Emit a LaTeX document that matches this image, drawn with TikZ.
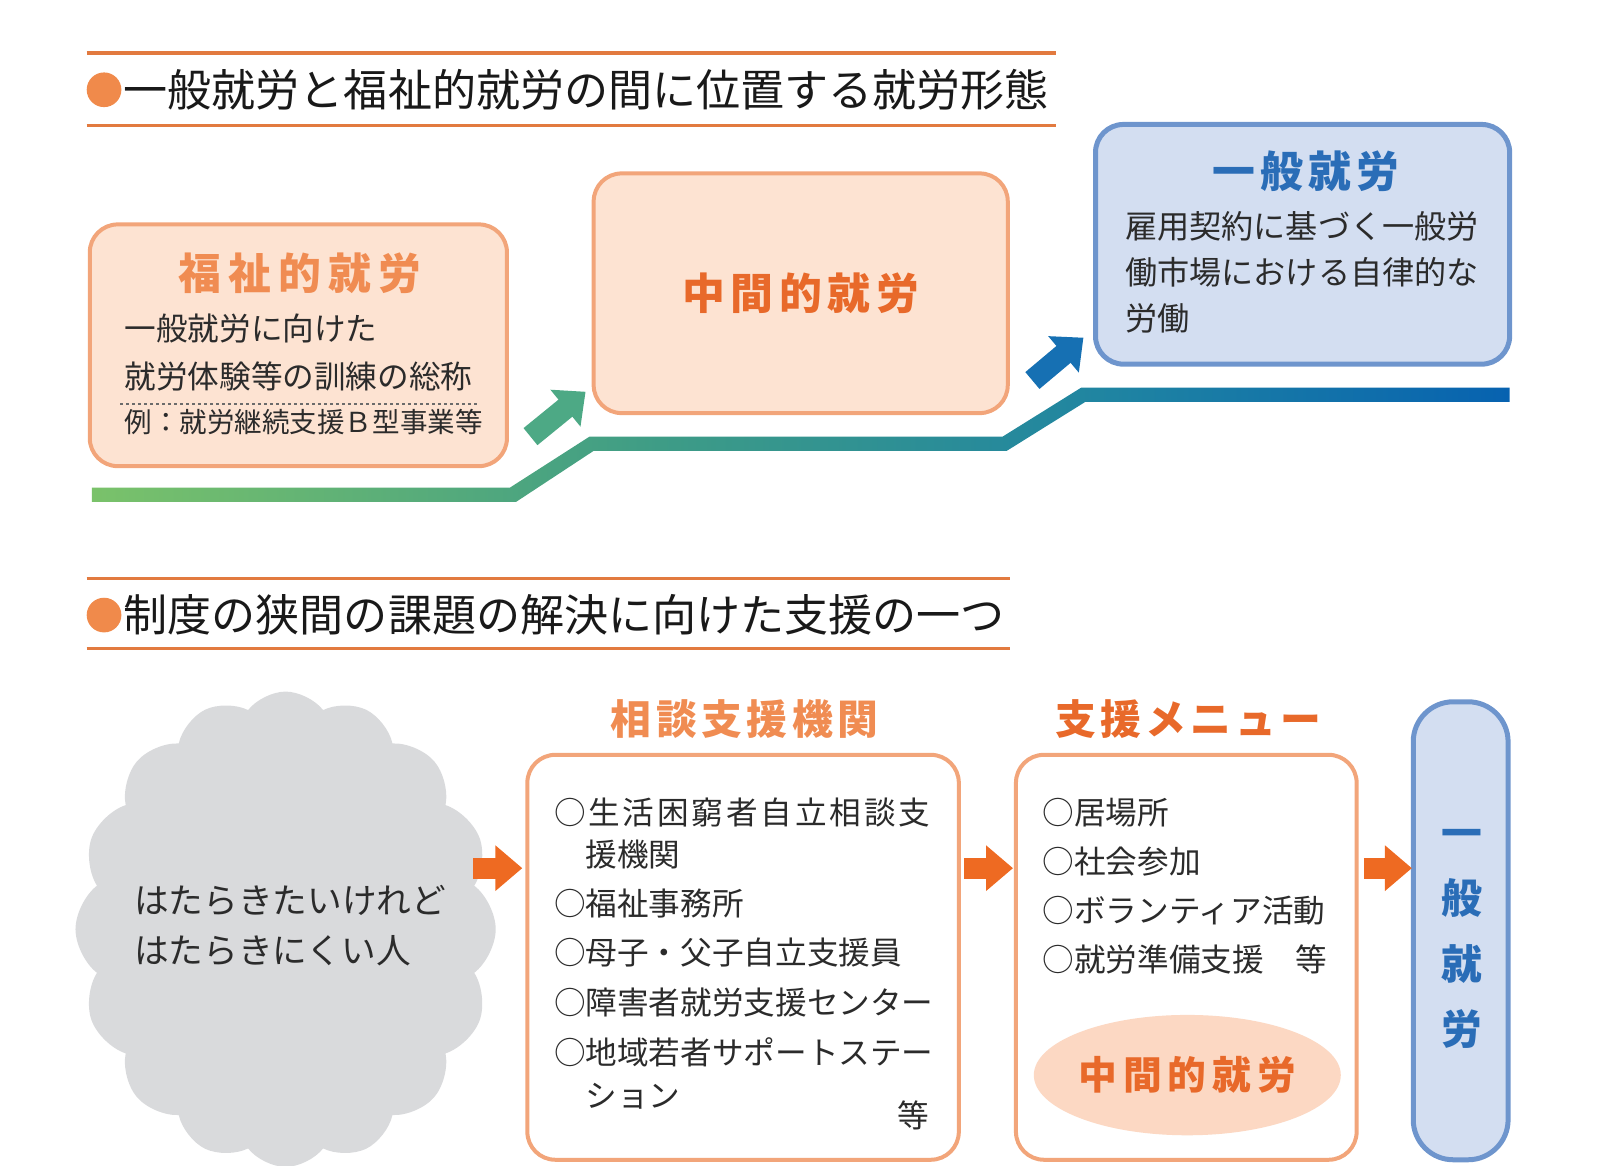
\documentclass[tikz,border=0pt]{standalone}
\usepackage{fontspec}
\setmainfont{Noto Sans CJK JP}
\usetikzlibrary{shapes.geometric,shapes.symbols,arrows.meta,positioning}

\definecolor{headorange}{HTML}{E27A3F}
\definecolor{bulletorange}{HTML}{F08A4B}
\definecolor{peachfill}{HTML}{FDE3D2}
\definecolor{boxorange}{HTML}{F2A57A}
\definecolor{titleorange}{HTML}{F08C52}
\definecolor{deeporange}{HTML}{E8692A}
\definecolor{bluefill}{HTML}{D3DEF1}
\definecolor{boxblue}{HTML}{6E95CD}
\definecolor{titleblue}{HTML}{2A6DB7}
\definecolor{inkgray}{HTML}{2B2B2B}
\definecolor{cloudgray}{HTML}{D9DADC}
\definecolor{arroworange}{HTML}{EE6A22}
\definecolor{arrowgreen}{HTML}{4DA985}
\definecolor{arrowblue}{HTML}{1670B3}
\definecolor{chipfill}{HTML}{FCD8C3}
\definecolor{bandA}{HTML}{7AC26A}
\definecolor{bandB}{HTML}{3E9C86}
\definecolor{bandC}{HTML}{1F84A2}
\definecolor{bandD}{HTML}{0762B0}

\pgfdeclarehorizontalshading{band}{100bp}{color(0bp)=(bandA); color(25bp)=(bandA); color(45bp)=(bandB); color(61bp)=(bandC); color(75bp)=(bandD); color(100bp)=(bandD)}

\newcommand{\spread}[1]{\addfontfeature{LetterSpace=#1}}

\tikzset{
    peachbox/.style={draw=boxorange, fill=peachfill, line width=4, rounded corners=28},
    bluebox/.style={draw=boxblue, fill=bluefill, line width=5, rounded corners=28},
    whitebox/.style={draw=boxorange, fill=white, line width=4, rounded corners=28},
    bodytext/.style={anchor=west, inner sep=0, align=left, text=inkgray, font=\fontsize{31}{46}\selectfont},
    headtext/.style={anchor=west, inner sep=0, text=black!90, font=\fontsize{43.2}{50}\selectfont},
    headline/.style={draw=headorange, line width=3.5},
    bullet/.style={circle, fill=bulletorange, minimum size=34, inner sep=0},
    bigtitle/.style={inner sep=0, font=\fontsize{42}{48}\selectfont\bfseries},
    uparrow/.style={line width=22, -{Triangle[length=26pt,width=46pt]}},
    rightarrow/.style={line width=21, arroworange, -{Triangle[length=27pt,width=44pt]}},
}

\begin{document}
\begin{tikzpicture}[x=1pt,y=-1pt,scale=1.02,every node/.append style={transform shape}]
    \useasboundingbox (0,0) rectangle (1568.6,1143.1);

    % upper heading
    \draw[headline] (85,52) -- (1035,52);
    \draw[headline] (85,123) -- (1035,123);
    \node[bullet] (dot1) at (102,88) {};
    \node[headtext] (head1) at (121,88) {一般就労と福祉的就労の間に位置する就労形態};

    % the step line
    \shade[shading=band] (90,478) -- (500,478) -- (578,428) -- (983,428) -- (1060,380) -- (1480,380)
        -- (1480,394) -- (1064,394) -- (987,442) -- (582,442) -- (506,492) -- (90,492) -- cycle;

    \node[peachbox, minimum width=409, minimum height=237] (welfare) at (292.5,338.5) {};
    \node[bigtitle, text=titleorange] (welfaretitle) at (294,268) {\spread{17}福祉的就労};
    \node[bodytext, font=\fontsize{31}{47}\selectfont] (welfarebody) at (122,345.5) {一般就労に向けた\\就労体験等の訓練の総称};
    \draw[dashed, draw=inkgray!70, line width=1.5] (118,396) -- (470,396);
    \node[bodytext, font=\fontsize{27}{32}\selectfont] (welfareex) at (122,414) {例：就労継続支援Ｂ型事業等};

    \node[peachbox, minimum width=406, minimum height=235, text=deeporange,
          font=\fontsize{42}{48}\selectfont\bfseries] (middle) at (785,287.5) {\spread{13}中間的就労};

    \node[bluebox, minimum width=406, minimum height=235] (general) at (1277,239.5) {};
    \node[bigtitle, text=titleblue] (generaltitle) at (1280,168) {\spread{12}一般就労};
    \node[bodytext, font=\fontsize{31.5}{45}\selectfont] (generalbody) at (1103,267) {雇用契約に基づく一般労\\働市場における自律的な\\労働};

    \coordinate (up1s) at (520,428);
    \coordinate (up1e) at (574,384);
    \coordinate (up2s) at (1012,373);
    \coordinate (up2e) at (1062,331);
    \draw[uparrow, arrowgreen] (up1s) -- (up1e);
    \draw[uparrow, arrowblue] (up2s) -- (up2e);

    % lower heading
    \draw[headline] (85,567) -- (990,567);
    \draw[headline] (85,636) -- (990,636);
    \node[bullet] (dot2) at (102,603) {};
    \node[headtext] (head2) at (121,603) {制度の狭間の課題の解決に向けた支援の一つ};

    % people
    \node[cloud, cloud puffs=16, cloud puff arc=105, cloud ignores aspect, fill=cloudgray,
          minimum width=412, minimum height=466, inner sep=0] (worker) at (280,911) {};
    \node[bodytext, font=\fontsize{34}{49}\selectfont] (workertext) at (132,907) {はたらきたいけれど\\はたらきにくい人};

    % consultation
    \node[bigtitle, text=titleorange, font=\fontsize{40}{48}\selectfont\bfseries] (soudanlabel) at (730,705) {\spread{11}相談支援機関};
    \node[whitebox, minimum width=423, minimum height=397] (soudan) at (728.5,938.5) {};
    \node[bodytext, font=\fontsize{31}{41}\selectfont] (soudan1) at (543,817.5) {{\spread{9}○生活困窮者自立相談支}\\\hspace*{1em}援機関};
    \node[bodytext] (soudan2) at (543,886) {○福祉事務所};
    \node[bodytext] (soudan3) at (543,934) {○母子・父子自立支援員};
    \node[bodytext] (soudan4) at (543,983) {○障害者就労支援センター};
    \node[bodytext, font=\fontsize{31}{42}\selectfont] (soudan5) at (543,1052) {○地域若者サポートステー\\\hspace*{1em}ション};
    \node[bodytext] (soudan6) at (880,1093) {等};

    % menu
    \node[bigtitle, text=deeporange, font=\fontsize{40}{48}\selectfont\bfseries] (menulabel) at (1165,705) {\spread{10}支援メニュー};
    \node[whitebox, minimum width=334, minimum height=397] (menu) at (1163,938.5) {};
    \foreach \y/\t in {797/○居場所, 845/○社会参加, 893/○ボランティア活動, 941/○就労準備支援　等}
        \node[bodytext] (menuitem\y) at (1022,\y) {\t};
    \node[ellipse, fill=chipfill, minimum width=282, minimum height=118, inner sep=0, text=deeporange,
          font=\fontsize{38}{44}\selectfont\bfseries] (chip) at (1164,1054) {\spread{15}中間的就労};

    % goal
    \node[bluebox, rounded corners=40, minimum width=93, minimum height=449] (generalbar) at (1432,912.5) {};
    \node[inner sep=0, align=center, text=titleblue, font=\fontsize{40}{64}\selectfont\bfseries]
        (generalbartext) at (1433,920.5) {一\\般\\就\\労};

    \coordinate (go1s) at (464,851);
    \coordinate (go1e) at (512,851);
    \coordinate (go2s) at (945,851);
    \coordinate (go2e) at (993,851);
    \coordinate (go3s) at (1337,851);
    \coordinate (go3e) at (1384,851);
    \draw[rightarrow] (go1s) -- (go1e);
    \draw[rightarrow] (go2s) -- (go2e);
    \draw[rightarrow] (go3s) -- (go3e);
\end{tikzpicture}
\end{document}
